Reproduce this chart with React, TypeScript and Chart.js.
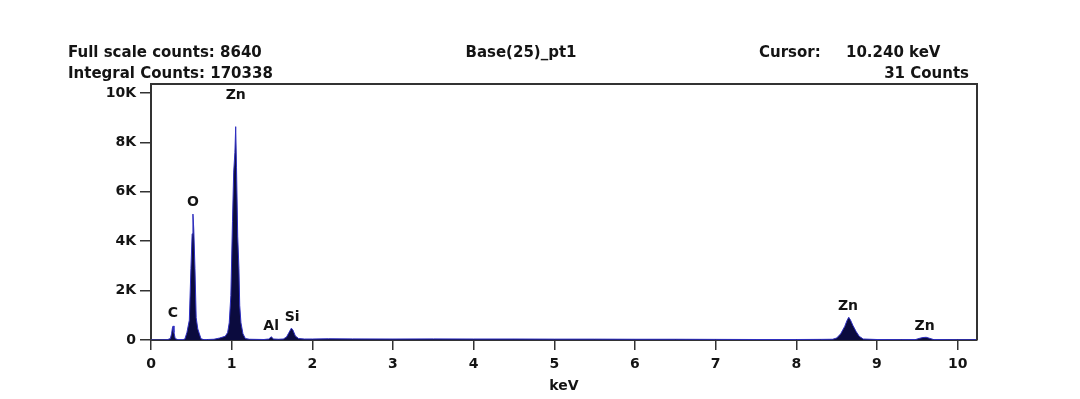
import React, { useEffect, useRef } from "react";
import { Chart, registerables } from "chart.js";

Chart.register(...registerables);

// ---- Spectrum data (energy in keV, counts) ----
const lowKeV = [0.0, 0.1, 0.2, 0.24, 0.255, 0.265, 0.275, 0.285, 0.3, 0.33, 0.4, 0.42, 0.445, 0.475, 0.495, 0.51, 0.52, 0.53, 0.545, 0.56, 0.58, 0.6, 0.62, 0.65];
const lowCounts = [0, 0, 10, 60, 250, 480, 570, 300, 60, 20, 20, 40, 300, 800, 2900, 4300, 5100, 4500, 2900, 900, 450, 250, 50, 20];

const znLKeV = [0.7, 0.78, 0.85, 0.92, 0.95, 0.97, 0.99, 1.01, 1.025, 1.04, 1.05, 1.06, 1.075, 1.09, 1.1, 1.115, 1.14, 1.17, 1.22];
const znLCounts = [20, 30, 80, 150, 300, 700, 1800, 4800, 6800, 7600, 8640, 7000, 4200, 2900, 1400, 700, 250, 60, 30];

const alSiKeV = [1.4, 1.46, 1.49, 1.52, 1.58, 1.64, 1.68, 1.71, 1.74, 1.76, 1.79, 1.83, 1.9];
const alSiCounts = [20, 40, 130, 40, 30, 40, 120, 300, 480, 400, 160, 60, 40];

const midKeV = [2.0, 2.2, 2.5, 3.0, 3.5, 4.0, 4.5, 5.0, 5.5, 6.0, 6.5, 7.0, 7.5, 8.0, 8.3];
const midCounts = [40, 50, 45, 40, 45, 40, 40, 35, 35, 30, 30, 25, 20, 20, 25];

const znKKeV = [8.45, 8.5, 8.55, 8.6, 8.63, 8.65, 8.67, 8.7, 8.74, 8.78, 8.83, 9.0, 9.3, 9.48, 9.53, 9.57, 9.61, 9.65, 9.7, 10.0, 10.24];
const znKCounts = [30, 80, 250, 550, 800, 920, 820, 600, 350, 150, 40, 20, 15, 20, 70, 100, 110, 70, 20, 10, 10];

// ---- Peak labels (element, keV, counts height) ----
const peakNames = ["C", "O", "Zn", "Al", "Si", "Zn", "Zn"];
const peakKeV = [0.27, 0.52, 1.05, 1.49, 1.75, 8.64, 9.59];
const peakLabelCounts = [1060, 5570, 9920, 570, 935, 1380, 570];

// ---- Axis ----
const xMaxKeV = 10.24;
const yMaxCounts = 10368;
const xTickValues = [0, 1, 2, 3, 4, 5, 6, 7, 8, 9, 10];
const yTickValues = [0, 2000, 4000, 6000, 8000, 10000];
const yTickLabels = ["0", "2K", "4K", "6K", "8K", "10K"];

// ---- Header texts ----
const headerLeft1 = "Full scale counts: 8640";
const headerLeft2 = "Integral Counts: 170338";
const headerTitle = "Base(25)_pt1";
const cursorLabel = "Cursor:";
const cursorValue = "10.240 keV";
const cursorCounts = "31 Counts";
const xTitle = "keV";

const FONT = "'DejaVu Sans', Verdana, sans-serif";
const TEXT = "#141414";
const AXIS = "#333333";

export default function App() {
  const ref = useRef<HTMLCanvasElement | null>(null);

  useEffect(() => {
    if (!ref.current) return;
    const keV = [...lowKeV, ...znLKeV, ...alSiKeV, ...midKeV, ...znKKeV];
    const counts = [...lowCounts, ...znLCounts, ...alSiCounts, ...midCounts, ...znKCounts];
    const points = keV.map((x, i) => ({ x, y: counts[i] }));

    const framePlugin = {
      id: "frame",
      afterDatasetsDraw(chart: any) {
        const { ctx, chartArea, scales } = chart;
        ctx.save();
        // peak labels
        ctx.fillStyle = TEXT;
        ctx.font = `bold 14px ${FONT}`;
        ctx.textAlign = "center";
        ctx.textBaseline = "middle";
        peakNames.forEach((n, i) => {
          ctx.fillText(n, scales.x.getPixelForValue(peakKeV[i]), scales.y.getPixelForValue(peakLabelCounts[i]));
        });
        // top and right frame
        ctx.strokeStyle = AXIS;
        ctx.lineWidth = 2;
        ctx.beginPath();
        ctx.moveTo(chartArea.left, chartArea.top);
        ctx.lineTo(chartArea.right, chartArea.top);
        ctx.lineTo(chartArea.right, chartArea.bottom);
        ctx.stroke();
        // header
        ctx.font = `bold 15px ${FONT}`;
        ctx.textBaseline = "alphabetic";
        ctx.textAlign = "left";
        ctx.fillText(headerLeft1, 68, 57);
        ctx.fillText(headerLeft2, 68, 78);
        ctx.fillText(cursorLabel, 759, 57);
        ctx.fillText(cursorValue, 846, 57);
        ctx.textAlign = "center";
        ctx.fillText(headerTitle, 521, 57);
        ctx.textAlign = "right";
        ctx.fillText(cursorCounts, 969, 78);
        ctx.restore();
      },
    };

    const chart = new Chart(ref.current, {
      type: "line",
      data: {
        datasets: [
          {
            data: points,
            borderColor: "#2e2ec0",
            borderWidth: 1,
            backgroundColor: "#0b0b3e",
            fill: "origin",
            pointRadius: 0,
            tension: 0,
          },
        ],
      },
      options: {
        animation: false,
        responsive: false,
        devicePixelRatio: 1,
        layout: { padding: { top: 84, right: 103, left: 0, bottom: 0 } },
        plugins: { legend: { display: false }, tooltip: { enabled: false }, title: { display: false } },
        scales: {
          x: {
            type: "linear",
            min: 0,
            max: xMaxKeV,
            afterBuildTicks: (s: any) => {
              s.ticks = xTickValues.map((v) => ({ value: v }));
            },
            afterFit: (s: any) => {
              s.height = 59;
            },
            border: { display: true, color: AXIS, width: 2 },
            grid: { display: true, drawOnChartArea: false, drawTicks: true, tickLength: 10, color: AXIS, lineWidth: 1.5 },
            ticks: {
              color: TEXT,
              font: { family: FONT, weight: "bold", size: 14 },
              padding: 6,
              maxRotation: 0,
              autoSkip: false,
              callback: (v: any) => String(v),
            },
            title: {
              display: true,
              text: xTitle,
              color: TEXT,
              font: { family: FONT, weight: "bold", size: 14 },
              padding: { top: 0, bottom: 4 },
            },
          },
          y: {
            type: "linear",
            min: 0,
            max: yMaxCounts,
            afterBuildTicks: (s: any) => {
              s.ticks = yTickValues.map((v) => ({ value: v }));
            },
            afterFit: (s: any) => {
              s.width = 151;
            },
            border: { display: true, color: AXIS, width: 2 },
            grid: { display: true, drawOnChartArea: false, drawTicks: true, tickLength: 11, color: AXIS, lineWidth: 1.5 },
            ticks: {
              color: TEXT,
              font: { family: FONT, weight: "bold", size: 14 },
              padding: 4,
              autoSkip: false,
              callback: (v: any) => yTickLabels[yTickValues.indexOf(v)] ?? String(v),
            },
          },
        },
      },
      plugins: [framePlugin],
    } as any);

    return () => chart.destroy();
  }, []);

  return (
    <div style={{ position: "fixed", left: 0, top: 0, width: 1080, height: 399, background: "#fff" }}>
      <canvas ref={ref} width={1080} height={399} style={{ width: 1080, height: 399 }} />
    </div>
  );
}
